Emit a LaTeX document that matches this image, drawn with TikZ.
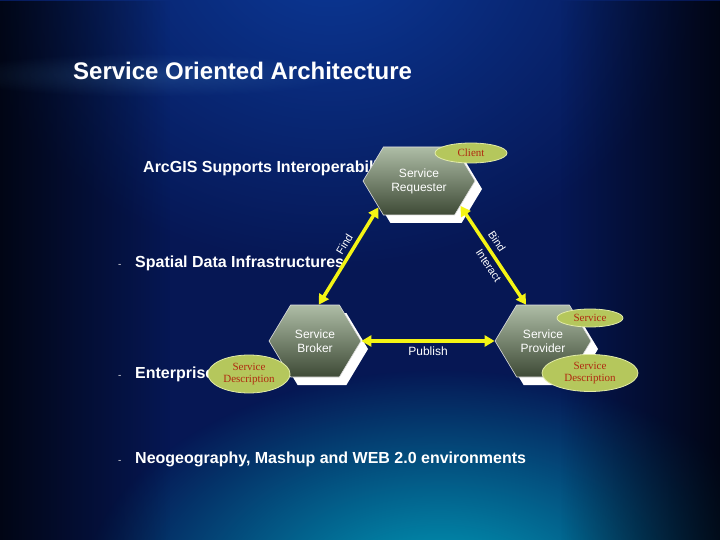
\documentclass[tikz,border=0pt]{standalone}
\usepackage{fontspec}
\setmainfont{Liberation Sans}
\newfontfamily\serifT{Liberation Serif}
\usetikzlibrary{shapes.geometric,shapes.symbols,shadows,fadings,arrows.meta}
\definecolor{bgnavy}{HTML}{061754}
\definecolor{topblue}{HTML}{0C3A9A}
\definecolor{teal}{HTML}{00A6C0}
\definecolor{lineblue}{HTML}{5AA0D0}
\definecolor{hexTop}{HTML}{AEBDA6}
\definecolor{hexBot}{HTML}{3E4A36}
\definecolor{ovalFill}{HTML}{B5C75C}
\definecolor{ovalLine}{HTML}{E2EBA8}
\definecolor{ovalText}{HTML}{B02A10}
\definecolor{ayellow}{HTML}{F4F414}
\tikzfading[name=radfade, inner color=transparent!0, outer color=transparent!100]
\tikzfading[name=hfade, left color=transparent!100, middle color=transparent!0, right color=transparent!100]
\tikzfading[name=lfade, left color=transparent!0, right color=transparent!100]
\tikzfading[name=rfade, left color=transparent!100, right color=transparent!0]
\begin{document}
\begin{tikzpicture}[x=1pt,y=-1pt,
  hexa/.style={signal, signal to=east and west, signal pointer angle=118,
    draw=white!75!gray, line width=0.6pt, top color=hexTop, bottom color=hexBot,
    text=white, font=\fontsize{12}{14}\selectfont, align=center, inner sep=0pt,
    drop shadow={shadow xshift=7pt, shadow yshift=-8pt, fill=white, opacity=1}},
  oval/.style={ellipse, fill=ovalFill, draw=ovalLine, line width=0.8pt, text=ovalText,
    font=\serifT\fontsize{11}{11.5}\selectfont, inner sep=0pt, align=center},
  yarrow/.style={draw=ayellow, line width=3.5pt,
    arrows={Triangle[length=10pt,width=11pt]-Triangle[length=10pt,width=11pt]}},
  lbl/.style={text=white, font=\fontsize{11}{12}\selectfont, inner sep=1pt},
  bigtxt/.style={text=white, font=\bfseries\fontsize{16}{18}\selectfont, anchor=base west, inner sep=0pt},
  dashmark/.style={text=white!80!gray, font=\fontsize{10}{10}\selectfont, anchor=base west, inner sep=0pt}
]
\useasboundingbox (0,0) rectangle (720,540);
% background
\fill[bgnavy] (0,0) rectangle (720,540);
\fill[topblue, path fading=radfade] (330,-60) ellipse [x radius=380, y radius=330];
\fill[teal, path fading=radfade] (440,600) ellipse [x radius=360, y radius=230];
\fill[black, opacity=0.75, path fading=lfade] (0,0) rectangle (170,540);
\fill[black, opacity=0.75, path fading=rfade] (560,0) rectangle (720,540);
% title band
\fill[lineblue, opacity=0.2, path fading=radfade] (150,75) ellipse [x radius=200, y radius=22];
\fill[lineblue, path fading=hfade] (0,53.5) rectangle (680,55);
\fill[lineblue, opacity=0.8, path fading=hfade] (0,95) rectangle (680,96.5);
\node[text=white, font=\bfseries\fontsize{24}{26}\selectfont, anchor=base west, inner sep=0pt] (title) at (73,80) {Service Oriented Architecture};
% body text
\node[bigtxt] (arc) at (143,173) {ArcGIS Supports Interoperability};
\node[dashmark] (d1) at (118,267) {-};
\node[bigtxt] (sdi) at (135,267) {Spatial Data Infrastructures};
\node[dashmark] (d2) at (118,378) {-};
\node[bigtxt] (ent) at (135,378) {Enterprise};
\node[dashmark] (d3) at (118,463) {-};
\node[bigtxt] (neo) at (135,463) {Neogeography, Mashup and WEB 2.0 environments};
% hexagons
\node[hexa, minimum width=112pt, minimum height=68pt] (req) at (419,181) {Service\\Requester};
\node[hexa, minimum width=92pt, minimum height=72pt] (brk) at (315,341) {Service\\Broker};
\node[hexa, minimum width=96pt, minimum height=72pt] (prov) at (543,341) {Service\\Provider};
% arrows
\draw[yarrow] (brk.84) -- node[lbl, sloped, above=3pt, pos=0.57] {Find} (req.213);
\draw[yarrow] (req.329) -- node[lbl, sloped, above=4pt, pos=0.42] {Bind} node[lbl, sloped, below=3pt, pos=0.55] {Interact} (prov.115);
\draw[yarrow] (prov.west) -- node[lbl, below=3pt, text=white, font=\fontsize{12}{13}\selectfont] {Publish} (brk.east);
% ovals
\node[oval, minimum width=72pt, minimum height=20pt] (client) at (471,153) {Client};
\node[oval, minimum width=66pt, minimum height=18pt] (svc) at (590,318) {Service};
\node[oval, minimum width=96pt, minimum height=37pt] (sdR) at (590,373) {Service\\Description};
\node[oval, minimum width=82pt, minimum height=38pt] (sdL) at (249,374) {Service\\Description};
\end{tikzpicture}
\end{document}
